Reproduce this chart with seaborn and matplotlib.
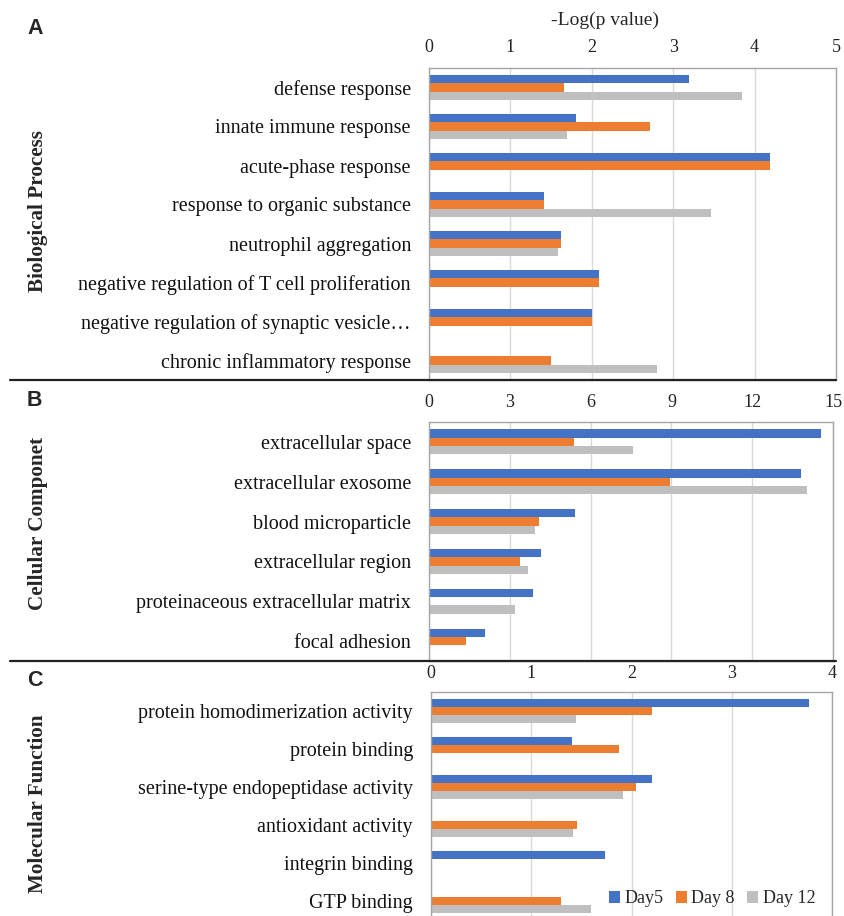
import matplotlib
matplotlib.use("Agg")
import matplotlib.pyplot as plt
from matplotlib.lines import Line2D
import numpy as np
import pandas as pd
import seaborn as sns

# -Log(p value) per GO term, None = term not enriched that day
days = ["Day5", "Day 8", "Day 12"]
day_colors = ["#4472C4", "#ED7D31", "#BFBFBF"]

bp_terms = ["defense response", "innate immune response", "acute-phase response",
            "response to organic substance", "neutrophil aggregation",
            "negative regulation of T cell proliferation",
            "negative regulation of synaptic vesicle\u2026",
            "chronic inflammatory response"]
bp_day5 = [3.19, 1.80, 4.19, 1.41, 1.62, 2.09, 2.00, None]
bp_day8 = [1.66, 2.72, 4.19, 1.41, 1.62, 2.09, 2.00, 1.50]
bp_day12 = [3.85, 1.70, None, 3.46, 1.59, None, None, 2.80]

cc_terms = ["extracellular space", "extracellular exosome", "blood microparticle",
            "extracellular region", "proteinaceous extracellular matrix",
            "focal adhesion"]
cc_day5 = [14.57, 13.80, 5.43, 4.17, 3.85, 2.09]
cc_day8 = [5.38, 8.95, 4.08, 3.39, None, 1.36]
cc_day12 = [7.56, 14.03, 3.95, 3.69, 3.18, None]

mf_terms = ["protein homodimerization activity", "protein binding",
            "serine-type endopeptidase activity", "antioxidant activity",
            "integrin binding", "GTP binding"]
mf_day5 = [3.77, 1.41, 2.20, None, 1.74, None]
mf_day8 = [2.20, 1.88, 2.04, 1.46, None, 1.30]
mf_day12 = [1.45, None, 1.92, 1.42, None, 1.60]


def long_table(terms, *series):
    rows = []
    for day, vals in zip(days, series):
        for term, v in zip(terms, vals):
            if v is not None:
                rows.append({"term": term, "day": day, "value": v})
    return pd.DataFrame(rows)


sns.set_theme(style="white")
plt.rcParams["font.family"] = ["Liberation Serif", "DejaVu Serif"]

W, H = 844, 916
fig = plt.figure(figsize=(W / 100, H / 100), dpi=100)


def px_axes(left, top, right, bottom):
    return fig.add_axes([left / W, 1 - bottom / H, (right - left) / W, (bottom - top) / H])


# terms, series, axes box (px), xmax, step, tick pad, letter, letter y, section, section y
panels = [
    (bp_terms, (bp_day5, bp_day8, bp_day12), (429, 68, 836, 380), 5, 1, 9, "A", 29, "Biological Process", 211),
    (cc_terms, (cc_day5, cc_day8, cc_day12), (429, 422, 833, 661), 15, 3, 8, "B", 400, "Cellular Componet", 524),
    (mf_terms, (mf_day5, mf_day8, mf_day12), (431, 692, 832, 920), 4, 1, 7, "C", 680, "Molecular Function", 804),
]

for i, (terms, series, box, xmax, step, pad, letter, ly, section, sy) in enumerate(panels):
    ax = px_axes(*box)
    df = long_table(terms, *series)
    sns.barplot(data=df, y="term", x="value", hue="day", order=terms, hue_order=days,
                palette=day_colors, orient="h", width=0.63, gap=0, errorbar=None,
                saturation=1, linewidth=0, legend=(i == 2), ax=ax)
    ax.set_xlim(0, xmax)
    ax.set_xticks(np.arange(0, xmax + step, step))
    ax.xaxis.tick_top()
    ax.tick_params(axis="x", length=0, pad=pad, labelsize=13, colors="#222222")
    ax.tick_params(axis="y", length=0, pad=13, labelsize=14.5, colors="#111111")
    ax.xaxis.grid(True, color="#D9D9D9", linewidth=1)
    ax.set_axisbelow(True)
    ax.set_xlabel("")
    ax.set_ylabel("")
    for s in ax.spines.values():
        s.set_color("#A6A6A6")
        s.set_linewidth(1)

    fig.text(38 / W, 1 - sy / H, section, rotation=90, ha="center", va="center",
             fontsize=15.2, fontweight="bold")
    fig.text(27 / W, 1 - ly / H, letter, ha="left", va="center", fontsize=15.5,
             fontweight="bold", family=["Liberation Sans", "DejaVu Sans"])

    if i == 2:
        ax.legend(loc="lower right", bbox_to_anchor=(0.99, 0.0), ncol=3, frameon=False,
                  fontsize=13, handlelength=0.6, handleheight=0.6, handletextpad=0.25,
                  columnspacing=0.7, borderaxespad=0.3)

fig.text(605 / W, 1 - 20 / H, "-Log(p value)", ha="center", va="center", fontsize=14)

for y in (380, 661):
    fig.add_artist(Line2D([10 / W, 836 / W], [1 - y / H, 1 - y / H], color="#222222",
                          linewidth=1.6))

fig.savefig("out.png", dpi=100)
